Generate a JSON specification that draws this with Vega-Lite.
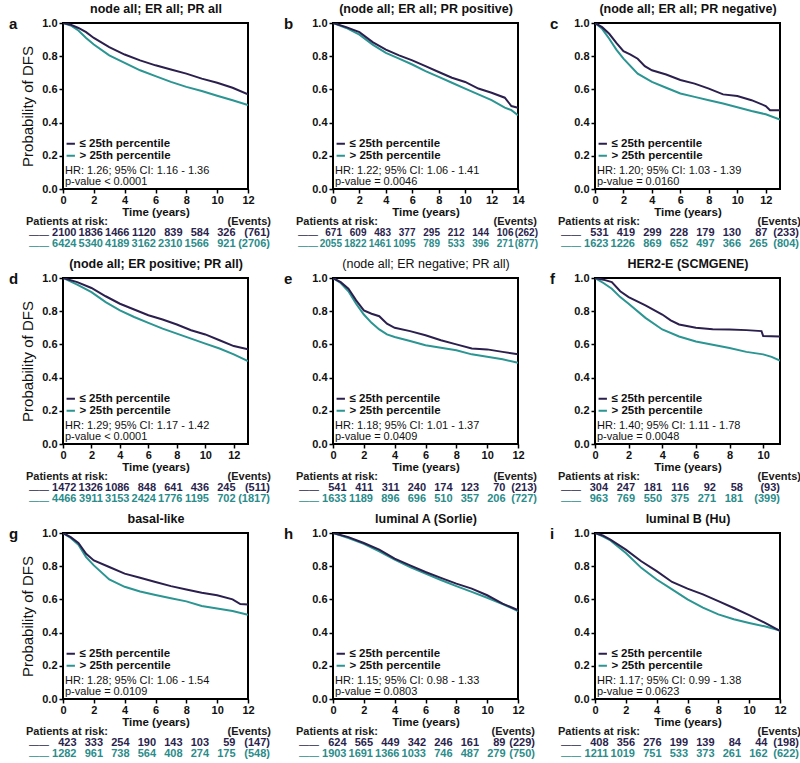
{
  "$schema": "https://vega.github.io/schema/vega-lite/v6.json",
  "padding": {"left": 8, "top": 1, "right": 0, "bottom": 0},
  "background": "white",
  "columns": 3,
  "spacing": {"row": 5, "column": 11},
  "align": "each",
  "resolve": {"scale": {"color": "independent"}},
  "datasets": {
    "km": [
      {"p":"a","g":"H","t":0,"s":1},{"p":"a","g":"H","t":0.5,"s":0.985},{"p":"a","g":"H","t":1,"s":0.955},{"p":"a","g":"H","t":1.5,"s":0.91},{"p":"a","g":"H","t":2,"s":0.87},{"p":"a","g":"H","t":3,"s":0.805},{"p":"a","g":"H","t":4,"s":0.76},{"p":"a","g":"H","t":5,"s":0.715},{"p":"a","g":"H","t":6,"s":0.68},{"p":"a","g":"H","t":7,"s":0.645},{"p":"a","g":"H","t":8,"s":0.615},{"p":"a","g":"H","t":9,"s":0.59},{"p":"a","g":"H","t":10,"s":0.562},{"p":"a","g":"H","t":11,"s":0.535},{"p":"a","g":"H","t":12,"s":0.505},
      {"p":"a","g":"L","t":0,"s":1},{"p":"a","g":"L","t":0.5,"s":0.99},{"p":"a","g":"L","t":1,"s":0.97},{"p":"a","g":"L","t":1.5,"s":0.945},{"p":"a","g":"L","t":2,"s":0.91},{"p":"a","g":"L","t":3,"s":0.855},{"p":"a","g":"L","t":4,"s":0.81},{"p":"a","g":"L","t":5,"s":0.775},{"p":"a","g":"L","t":6,"s":0.745},{"p":"a","g":"L","t":7,"s":0.72},{"p":"a","g":"L","t":8,"s":0.695},{"p":"a","g":"L","t":9,"s":0.665},{"p":"a","g":"L","t":10,"s":0.64},{"p":"a","g":"L","t":11,"s":0.61},{"p":"a","g":"L","t":12,"s":0.57},
      {"p":"b","g":"H","t":0,"s":1},{"p":"b","g":"H","t":1,"s":0.97},{"p":"b","g":"H","t":2,"s":0.93},{"p":"b","g":"H","t":3,"s":0.87},{"p":"b","g":"H","t":4,"s":0.82},{"p":"b","g":"H","t":5,"s":0.785},{"p":"b","g":"H","t":6,"s":0.75},{"p":"b","g":"H","t":7,"s":0.71},{"p":"b","g":"H","t":8,"s":0.675},{"p":"b","g":"H","t":9,"s":0.64},{"p":"b","g":"H","t":10,"s":0.605},{"p":"b","g":"H","t":11,"s":0.57},{"p":"b","g":"H","t":12,"s":0.535},{"p":"b","g":"H","t":13,"s":0.49},{"p":"b","g":"H","t":13.5,"s":0.475},{"p":"b","g":"H","t":14,"s":0.445},
      {"p":"b","g":"L","t":0,"s":1},{"p":"b","g":"L","t":1,"s":0.975},{"p":"b","g":"L","t":2,"s":0.945},{"p":"b","g":"L","t":3,"s":0.885},{"p":"b","g":"L","t":4,"s":0.84},{"p":"b","g":"L","t":5,"s":0.805},{"p":"b","g":"L","t":6,"s":0.775},{"p":"b","g":"L","t":7,"s":0.74},{"p":"b","g":"L","t":8,"s":0.705},{"p":"b","g":"L","t":9,"s":0.67},{"p":"b","g":"L","t":10,"s":0.645},{"p":"b","g":"L","t":11,"s":0.605},{"p":"b","g":"L","t":12,"s":0.58},{"p":"b","g":"L","t":13,"s":0.55},{"p":"b","g":"L","t":13.5,"s":0.5},{"p":"b","g":"L","t":14,"s":0.49},
      {"p":"c","g":"H","t":0,"s":1},{"p":"c","g":"H","t":0.5,"s":0.965},{"p":"c","g":"H","t":1,"s":0.905},{"p":"c","g":"H","t":1.5,"s":0.84},{"p":"c","g":"H","t":2,"s":0.785},{"p":"c","g":"H","t":3,"s":0.695},{"p":"c","g":"H","t":4,"s":0.645},{"p":"c","g":"H","t":5,"s":0.61},{"p":"c","g":"H","t":6,"s":0.575},{"p":"c","g":"H","t":7,"s":0.555},{"p":"c","g":"H","t":8,"s":0.535},{"p":"c","g":"H","t":9,"s":0.515},{"p":"c","g":"H","t":10,"s":0.493},{"p":"c","g":"H","t":11,"s":0.47},{"p":"c","g":"H","t":12,"s":0.45},{"p":"c","g":"H","t":13,"s":0.418},
      {"p":"c","g":"L","t":0,"s":1},{"p":"c","g":"L","t":0.5,"s":0.975},{"p":"c","g":"L","t":1,"s":0.935},{"p":"c","g":"L","t":1.5,"s":0.88},{"p":"c","g":"L","t":2,"s":0.83},{"p":"c","g":"L","t":2.5,"s":0.81},{"p":"c","g":"L","t":3,"s":0.785},{"p":"c","g":"L","t":3.5,"s":0.74},{"p":"c","g":"L","t":4,"s":0.715},{"p":"c","g":"L","t":5,"s":0.69},{"p":"c","g":"L","t":6,"s":0.657},{"p":"c","g":"L","t":7,"s":0.635},{"p":"c","g":"L","t":8,"s":0.605},{"p":"c","g":"L","t":9,"s":0.57},{"p":"c","g":"L","t":10,"s":0.56},{"p":"c","g":"L","t":11,"s":0.535},{"p":"c","g":"L","t":12,"s":0.5},{"p":"c","g":"L","t":12.3,"s":0.475},{"p":"c","g":"L","t":13,"s":0.475},
      {"p":"d","g":"H","t":0,"s":1},{"p":"d","g":"H","t":1,"s":0.96},{"p":"d","g":"H","t":2,"s":0.915},{"p":"d","g":"H","t":3,"s":0.855},{"p":"d","g":"H","t":4,"s":0.805},{"p":"d","g":"H","t":5,"s":0.765},{"p":"d","g":"H","t":6,"s":0.73},{"p":"d","g":"H","t":7,"s":0.695},{"p":"d","g":"H","t":8,"s":0.665},{"p":"d","g":"H","t":9,"s":0.635},{"p":"d","g":"H","t":10,"s":0.605},{"p":"d","g":"H","t":11,"s":0.575},{"p":"d","g":"H","t":12,"s":0.54},{"p":"d","g":"H","t":13,"s":0.5},
      {"p":"d","g":"L","t":0,"s":1},{"p":"d","g":"L","t":1,"s":0.975},{"p":"d","g":"L","t":2,"s":0.94},{"p":"d","g":"L","t":3,"s":0.89},{"p":"d","g":"L","t":4,"s":0.845},{"p":"d","g":"L","t":5,"s":0.81},{"p":"d","g":"L","t":6,"s":0.776},{"p":"d","g":"L","t":7,"s":0.75},{"p":"d","g":"L","t":8,"s":0.72},{"p":"d","g":"L","t":9,"s":0.685},{"p":"d","g":"L","t":10,"s":0.66},{"p":"d","g":"L","t":11,"s":0.625},{"p":"d","g":"L","t":12,"s":0.59},{"p":"d","g":"L","t":13,"s":0.57},
      {"p":"e","g":"H","t":0,"s":1},{"p":"e","g":"H","t":0.5,"s":0.97},{"p":"e","g":"H","t":1,"s":0.92},{"p":"e","g":"H","t":1.5,"s":0.845},{"p":"e","g":"H","t":2,"s":0.78},{"p":"e","g":"H","t":2.5,"s":0.73},{"p":"e","g":"H","t":3,"s":0.69},{"p":"e","g":"H","t":3.5,"s":0.66},{"p":"e","g":"H","t":4,"s":0.645},{"p":"e","g":"H","t":5,"s":0.62},{"p":"e","g":"H","t":6,"s":0.595},{"p":"e","g":"H","t":7,"s":0.58},{"p":"e","g":"H","t":8,"s":0.565},{"p":"e","g":"H","t":9,"s":0.54},{"p":"e","g":"H","t":10,"s":0.525},{"p":"e","g":"H","t":11,"s":0.51},{"p":"e","g":"H","t":12,"s":0.49},
      {"p":"e","g":"L","t":0,"s":1},{"p":"e","g":"L","t":0.5,"s":0.975},{"p":"e","g":"L","t":1,"s":0.935},{"p":"e","g":"L","t":1.5,"s":0.865},{"p":"e","g":"L","t":2,"s":0.805},{"p":"e","g":"L","t":2.5,"s":0.785},{"p":"e","g":"L","t":3,"s":0.77},{"p":"e","g":"L","t":3.5,"s":0.725},{"p":"e","g":"L","t":4,"s":0.7},{"p":"e","g":"L","t":5,"s":0.68},{"p":"e","g":"L","t":6,"s":0.655},{"p":"e","g":"L","t":7,"s":0.625},{"p":"e","g":"L","t":8,"s":0.6},{"p":"e","g":"L","t":9,"s":0.575},{"p":"e","g":"L","t":10,"s":0.57},{"p":"e","g":"L","t":11,"s":0.555},{"p":"e","g":"L","t":12,"s":0.54},
      {"p":"f","g":"H","t":0,"s":1},{"p":"f","g":"H","t":0.5,"s":0.97},{"p":"f","g":"H","t":1,"s":0.935},{"p":"f","g":"H","t":1.5,"s":0.885},{"p":"f","g":"H","t":2,"s":0.845},{"p":"f","g":"H","t":3,"s":0.76},{"p":"f","g":"H","t":4,"s":0.69},{"p":"f","g":"H","t":5,"s":0.648},{"p":"f","g":"H","t":6,"s":0.618},{"p":"f","g":"H","t":7,"s":0.598},{"p":"f","g":"H","t":8,"s":0.578},{"p":"f","g":"H","t":9,"s":0.555},{"p":"f","g":"H","t":10,"s":0.54},{"p":"f","g":"H","t":10.5,"s":0.525},{"p":"f","g":"H","t":11,"s":0.502},
      {"p":"f","g":"L","t":0,"s":1},{"p":"f","g":"L","t":0.5,"s":0.99},{"p":"f","g":"L","t":1,"s":0.975},{"p":"f","g":"L","t":1.5,"s":0.92},{"p":"f","g":"L","t":2,"s":0.885},{"p":"f","g":"L","t":3,"s":0.835},{"p":"f","g":"L","t":4,"s":0.78},{"p":"f","g":"L","t":4.5,"s":0.745},{"p":"f","g":"L","t":5,"s":0.72},{"p":"f","g":"L","t":6,"s":0.7},{"p":"f","g":"L","t":7,"s":0.692},{"p":"f","g":"L","t":8,"s":0.69},{"p":"f","g":"L","t":9,"s":0.686},{"p":"f","g":"L","t":9.9,"s":0.68},{"p":"f","g":"L","t":10,"s":0.65},{"p":"f","g":"L","t":11,"s":0.647},
      {"p":"g","g":"H","t":0,"s":1},{"p":"g","g":"H","t":0.5,"s":0.97},{"p":"g","g":"H","t":1,"s":0.93},{"p":"g","g":"H","t":1.5,"s":0.855},{"p":"g","g":"H","t":2,"s":0.805},{"p":"g","g":"H","t":3,"s":0.72},{"p":"g","g":"H","t":4,"s":0.676},{"p":"g","g":"H","t":5,"s":0.648},{"p":"g","g":"H","t":6,"s":0.627},{"p":"g","g":"H","t":7,"s":0.607},{"p":"g","g":"H","t":8,"s":0.588},{"p":"g","g":"H","t":9,"s":0.56},{"p":"g","g":"H","t":10,"s":0.545},{"p":"g","g":"H","t":11,"s":0.53},{"p":"g","g":"H","t":12,"s":0.508},
      {"p":"g","g":"L","t":0,"s":1},{"p":"g","g":"L","t":0.5,"s":0.975},{"p":"g","g":"L","t":1,"s":0.94},{"p":"g","g":"L","t":1.5,"s":0.875},{"p":"g","g":"L","t":2,"s":0.835},{"p":"g","g":"L","t":3,"s":0.795},{"p":"g","g":"L","t":4,"s":0.755},{"p":"g","g":"L","t":5,"s":0.73},{"p":"g","g":"L","t":6,"s":0.705},{"p":"g","g":"L","t":7,"s":0.68},{"p":"g","g":"L","t":8,"s":0.66},{"p":"g","g":"L","t":9,"s":0.64},{"p":"g","g":"L","t":10,"s":0.625},{"p":"g","g":"L","t":11,"s":0.6},{"p":"g","g":"L","t":11.5,"s":0.572},{"p":"g","g":"L","t":12,"s":0.57},
      {"p":"h","g":"H","t":0,"s":1},{"p":"h","g":"H","t":1,"s":0.97},{"p":"h","g":"H","t":2,"s":0.935},{"p":"h","g":"H","t":3,"s":0.89},{"p":"h","g":"H","t":4,"s":0.84},{"p":"h","g":"H","t":5,"s":0.795},{"p":"h","g":"H","t":6,"s":0.755},{"p":"h","g":"H","t":7,"s":0.717},{"p":"h","g":"H","t":8,"s":0.68},{"p":"h","g":"H","t":9,"s":0.645},{"p":"h","g":"H","t":10,"s":0.61},{"p":"h","g":"H","t":11,"s":0.572},{"p":"h","g":"H","t":12,"s":0.53},
      {"p":"h","g":"L","t":0,"s":1},{"p":"h","g":"L","t":1,"s":0.975},{"p":"h","g":"L","t":2,"s":0.94},{"p":"h","g":"L","t":3,"s":0.9},{"p":"h","g":"L","t":4,"s":0.845},{"p":"h","g":"L","t":5,"s":0.805},{"p":"h","g":"L","t":6,"s":0.765},{"p":"h","g":"L","t":7,"s":0.73},{"p":"h","g":"L","t":8,"s":0.695},{"p":"h","g":"L","t":9,"s":0.665},{"p":"h","g":"L","t":10,"s":0.625},{"p":"h","g":"L","t":11,"s":0.575},{"p":"h","g":"L","t":12,"s":0.535},
      {"p":"i","g":"H","t":0,"s":1},{"p":"i","g":"H","t":0.5,"s":0.98},{"p":"i","g":"H","t":1,"s":0.955},{"p":"i","g":"H","t":2,"s":0.88},{"p":"i","g":"H","t":3,"s":0.79},{"p":"i","g":"H","t":4,"s":0.72},{"p":"i","g":"H","t":5,"s":0.66},{"p":"i","g":"H","t":6,"s":0.6},{"p":"i","g":"H","t":7,"s":0.55},{"p":"i","g":"H","t":8,"s":0.51},{"p":"i","g":"H","t":9,"s":0.48},{"p":"i","g":"H","t":10,"s":0.458},{"p":"i","g":"H","t":11,"s":0.438},{"p":"i","g":"H","t":12,"s":0.412},
      {"p":"i","g":"L","t":0,"s":1},{"p":"i","g":"L","t":0.5,"s":0.985},{"p":"i","g":"L","t":1,"s":0.96},{"p":"i","g":"L","t":2,"s":0.9},{"p":"i","g":"L","t":3,"s":0.83},{"p":"i","g":"L","t":4,"s":0.77},{"p":"i","g":"L","t":5,"s":0.705},{"p":"i","g":"L","t":6,"s":0.665},{"p":"i","g":"L","t":7,"s":0.63},{"p":"i","g":"L","t":8,"s":0.59},{"p":"i","g":"L","t":9,"s":0.548},{"p":"i","g":"L","t":10,"s":0.505},{"p":"i","g":"L","t":11,"s":0.46},{"p":"i","g":"L","t":12,"s":0.41}
    ],
    "risk": [
      {"p":"a","r":"h","k":"l","c":0,"v":"Patients at risk:"},{"p":"a","r":"h","k":"e","c":8,"v":"(Events)"},{"p":"a","r":"d","k":"s","c":0,"v":"——"},{"p":"a","r":"t","k":"s","c":0,"v":"——"},
      {"p":"a","r":"d","k":"n","c":1,"v":"2100"},{"p":"a","r":"d","k":"n","c":2,"v":"1836"},{"p":"a","r":"d","k":"n","c":3,"v":"1466"},{"p":"a","r":"d","k":"n","c":4,"v":"1120"},{"p":"a","r":"d","k":"n","c":5,"v":"839"},{"p":"a","r":"d","k":"n","c":6,"v":"584"},{"p":"a","r":"d","k":"n","c":7,"v":"326"},{"p":"a","r":"d","k":"v","c":8,"v":"(761)"},
      {"p":"a","r":"t","k":"n","c":1,"v":"6424"},{"p":"a","r":"t","k":"n","c":2,"v":"5340"},{"p":"a","r":"t","k":"n","c":3,"v":"4189"},{"p":"a","r":"t","k":"n","c":4,"v":"3162"},{"p":"a","r":"t","k":"n","c":5,"v":"2310"},{"p":"a","r":"t","k":"n","c":6,"v":"1566"},{"p":"a","r":"t","k":"n","c":7,"v":"921"},{"p":"a","r":"t","k":"v","c":8,"v":"(2706)"},
      {"p":"b","r":"h","k":"l","c":0,"v":"Patients at risk:"},{"p":"b","r":"h","k":"e","c":9,"v":"(Events)"},{"p":"b","r":"d","k":"s","c":0,"v":"——"},{"p":"b","r":"t","k":"s","c":0,"v":"——"},
      {"p":"b","r":"d","k":"n","c":1,"v":"671"},{"p":"b","r":"d","k":"n","c":2,"v":"609"},{"p":"b","r":"d","k":"n","c":3,"v":"483"},{"p":"b","r":"d","k":"n","c":4,"v":"377"},{"p":"b","r":"d","k":"n","c":5,"v":"295"},{"p":"b","r":"d","k":"n","c":6,"v":"212"},{"p":"b","r":"d","k":"n","c":7,"v":"144"},{"p":"b","r":"d","k":"n","c":8,"v":"106"},{"p":"b","r":"d","k":"v","c":9,"v":"(262)"},
      {"p":"b","r":"t","k":"n","c":1,"v":"2055"},{"p":"b","r":"t","k":"n","c":2,"v":"1822"},{"p":"b","r":"t","k":"n","c":3,"v":"1461"},{"p":"b","r":"t","k":"n","c":4,"v":"1095"},{"p":"b","r":"t","k":"n","c":5,"v":"789"},{"p":"b","r":"t","k":"n","c":6,"v":"533"},{"p":"b","r":"t","k":"n","c":7,"v":"396"},{"p":"b","r":"t","k":"n","c":8,"v":"271"},{"p":"b","r":"t","k":"v","c":9,"v":"(877)"},
      {"p":"c","r":"h","k":"l","c":0,"v":"Patients at risk:"},{"p":"c","r":"h","k":"e","c":8,"v":"(Events)"},{"p":"c","r":"d","k":"s","c":0,"v":"——"},{"p":"c","r":"t","k":"s","c":0,"v":"——"},
      {"p":"c","r":"d","k":"n","c":1,"v":"531"},{"p":"c","r":"d","k":"n","c":2,"v":"419"},{"p":"c","r":"d","k":"n","c":3,"v":"299"},{"p":"c","r":"d","k":"n","c":4,"v":"228"},{"p":"c","r":"d","k":"n","c":5,"v":"179"},{"p":"c","r":"d","k":"n","c":6,"v":"130"},{"p":"c","r":"d","k":"n","c":7,"v":"87"},{"p":"c","r":"d","k":"v","c":8,"v":"(233)"},
      {"p":"c","r":"t","k":"n","c":1,"v":"1623"},{"p":"c","r":"t","k":"n","c":2,"v":"1226"},{"p":"c","r":"t","k":"n","c":3,"v":"869"},{"p":"c","r":"t","k":"n","c":4,"v":"652"},{"p":"c","r":"t","k":"n","c":5,"v":"497"},{"p":"c","r":"t","k":"n","c":6,"v":"366"},{"p":"c","r":"t","k":"n","c":7,"v":"265"},{"p":"c","r":"t","k":"v","c":8,"v":"(804)"},
      {"p":"d","r":"h","k":"l","c":0,"v":"Patients at risk:"},{"p":"d","r":"h","k":"e","c":8,"v":"(Events)"},{"p":"d","r":"d","k":"s","c":0,"v":"——"},{"p":"d","r":"t","k":"s","c":0,"v":"——"},
      {"p":"d","r":"d","k":"n","c":1,"v":"1472"},{"p":"d","r":"d","k":"n","c":2,"v":"1326"},{"p":"d","r":"d","k":"n","c":3,"v":"1086"},{"p":"d","r":"d","k":"n","c":4,"v":"848"},{"p":"d","r":"d","k":"n","c":5,"v":"641"},{"p":"d","r":"d","k":"n","c":6,"v":"436"},{"p":"d","r":"d","k":"n","c":7,"v":"245"},{"p":"d","r":"d","k":"v","c":8,"v":"(511)"},
      {"p":"d","r":"t","k":"n","c":1,"v":"4466"},{"p":"d","r":"t","k":"n","c":2,"v":"3911"},{"p":"d","r":"t","k":"n","c":3,"v":"3153"},{"p":"d","r":"t","k":"n","c":4,"v":"2424"},{"p":"d","r":"t","k":"n","c":5,"v":"1776"},{"p":"d","r":"t","k":"n","c":6,"v":"1195"},{"p":"d","r":"t","k":"n","c":7,"v":"702"},{"p":"d","r":"t","k":"v","c":8,"v":"(1817)"},
      {"p":"e","r":"h","k":"l","c":0,"v":"Patients at risk:"},{"p":"e","r":"h","k":"e","c":8,"v":"(Events)"},{"p":"e","r":"d","k":"s","c":0,"v":"——"},{"p":"e","r":"t","k":"s","c":0,"v":"——"},
      {"p":"e","r":"d","k":"n","c":1,"v":"541"},{"p":"e","r":"d","k":"n","c":2,"v":"411"},{"p":"e","r":"d","k":"n","c":3,"v":"311"},{"p":"e","r":"d","k":"n","c":4,"v":"240"},{"p":"e","r":"d","k":"n","c":5,"v":"174"},{"p":"e","r":"d","k":"n","c":6,"v":"123"},{"p":"e","r":"d","k":"n","c":7,"v":"70"},{"p":"e","r":"d","k":"v","c":8,"v":"(213)"},
      {"p":"e","r":"t","k":"n","c":1,"v":"1633"},{"p":"e","r":"t","k":"n","c":2,"v":"1189"},{"p":"e","r":"t","k":"n","c":3,"v":"896"},{"p":"e","r":"t","k":"n","c":4,"v":"696"},{"p":"e","r":"t","k":"n","c":5,"v":"510"},{"p":"e","r":"t","k":"n","c":6,"v":"357"},{"p":"e","r":"t","k":"n","c":7,"v":"206"},{"p":"e","r":"t","k":"v","c":8,"v":"(727)"},
      {"p":"f","r":"h","k":"l","c":0,"v":"Patients at risk:"},{"p":"f","r":"h","k":"e","c":7,"v":"(Events)"},{"p":"f","r":"d","k":"s","c":0,"v":"——"},{"p":"f","r":"t","k":"s","c":0,"v":"——"},
      {"p":"f","r":"d","k":"n","c":1,"v":"304"},{"p":"f","r":"d","k":"n","c":2,"v":"247"},{"p":"f","r":"d","k":"n","c":3,"v":"181"},{"p":"f","r":"d","k":"n","c":4,"v":"116"},{"p":"f","r":"d","k":"n","c":5,"v":"92"},{"p":"f","r":"d","k":"n","c":6,"v":"58"},{"p":"f","r":"d","k":"v","c":7,"v":"(93)"},
      {"p":"f","r":"t","k":"n","c":1,"v":"963"},{"p":"f","r":"t","k":"n","c":2,"v":"769"},{"p":"f","r":"t","k":"n","c":3,"v":"550"},{"p":"f","r":"t","k":"n","c":4,"v":"375"},{"p":"f","r":"t","k":"n","c":5,"v":"271"},{"p":"f","r":"t","k":"n","c":6,"v":"181"},{"p":"f","r":"t","k":"v","c":7,"v":"(399)"},
      {"p":"g","r":"h","k":"l","c":0,"v":"Patients at risk:"},{"p":"g","r":"h","k":"e","c":8,"v":"(Events)"},{"p":"g","r":"d","k":"s","c":0,"v":"——"},{"p":"g","r":"t","k":"s","c":0,"v":"——"},
      {"p":"g","r":"d","k":"n","c":1,"v":"423"},{"p":"g","r":"d","k":"n","c":2,"v":"333"},{"p":"g","r":"d","k":"n","c":3,"v":"254"},{"p":"g","r":"d","k":"n","c":4,"v":"190"},{"p":"g","r":"d","k":"n","c":5,"v":"143"},{"p":"g","r":"d","k":"n","c":6,"v":"103"},{"p":"g","r":"d","k":"n","c":7,"v":"59"},{"p":"g","r":"d","k":"v","c":8,"v":"(147)"},
      {"p":"g","r":"t","k":"n","c":1,"v":"1282"},{"p":"g","r":"t","k":"n","c":2,"v":"961"},{"p":"g","r":"t","k":"n","c":3,"v":"738"},{"p":"g","r":"t","k":"n","c":4,"v":"564"},{"p":"g","r":"t","k":"n","c":5,"v":"408"},{"p":"g","r":"t","k":"n","c":6,"v":"274"},{"p":"g","r":"t","k":"n","c":7,"v":"175"},{"p":"g","r":"t","k":"v","c":8,"v":"(548)"},
      {"p":"h","r":"h","k":"l","c":0,"v":"Patients at risk:"},{"p":"h","r":"h","k":"e","c":8,"v":"(Events)"},{"p":"h","r":"d","k":"s","c":0,"v":"——"},{"p":"h","r":"t","k":"s","c":0,"v":"——"},
      {"p":"h","r":"d","k":"n","c":1,"v":"624"},{"p":"h","r":"d","k":"n","c":2,"v":"565"},{"p":"h","r":"d","k":"n","c":3,"v":"449"},{"p":"h","r":"d","k":"n","c":4,"v":"342"},{"p":"h","r":"d","k":"n","c":5,"v":"246"},{"p":"h","r":"d","k":"n","c":6,"v":"161"},{"p":"h","r":"d","k":"n","c":7,"v":"89"},{"p":"h","r":"d","k":"v","c":8,"v":"(229)"},
      {"p":"h","r":"t","k":"n","c":1,"v":"1903"},{"p":"h","r":"t","k":"n","c":2,"v":"1691"},{"p":"h","r":"t","k":"n","c":3,"v":"1366"},{"p":"h","r":"t","k":"n","c":4,"v":"1033"},{"p":"h","r":"t","k":"n","c":5,"v":"746"},{"p":"h","r":"t","k":"n","c":6,"v":"487"},{"p":"h","r":"t","k":"n","c":7,"v":"279"},{"p":"h","r":"t","k":"v","c":8,"v":"(750)"},
      {"p":"i","r":"h","k":"l","c":0,"v":"Patients at risk:"},{"p":"i","r":"h","k":"e","c":8,"v":"(Events)"},{"p":"i","r":"d","k":"s","c":0,"v":"——"},{"p":"i","r":"t","k":"s","c":0,"v":"——"},
      {"p":"i","r":"d","k":"n","c":1,"v":"408"},{"p":"i","r":"d","k":"n","c":2,"v":"356"},{"p":"i","r":"d","k":"n","c":3,"v":"276"},{"p":"i","r":"d","k":"n","c":4,"v":"199"},{"p":"i","r":"d","k":"n","c":5,"v":"139"},{"p":"i","r":"d","k":"n","c":6,"v":"84"},{"p":"i","r":"d","k":"n","c":7,"v":"44"},{"p":"i","r":"d","k":"v","c":8,"v":"(198)"},
      {"p":"i","r":"t","k":"n","c":1,"v":"1211"},{"p":"i","r":"t","k":"n","c":2,"v":"1019"},{"p":"i","r":"t","k":"n","c":3,"v":"751"},{"p":"i","r":"t","k":"n","c":4,"v":"533"},{"p":"i","r":"t","k":"n","c":5,"v":"373"},{"p":"i","r":"t","k":"n","c":6,"v":"261"},{"p":"i","r":"t","k":"n","c":7,"v":"162"},{"p":"i","r":"t","k":"v","c":8,"v":"(622)"}
    ]
  },
  "concat": [
    {
      "bounds": "flush", "spacing": 27,
      "resolve": {"scale": {"color": "independent"}},
      "vconcat": [
        {"width": 185, "height": 166, "title": {"text": "a", "dx": -54},
         "data": {"name": "km"}, "transform": [{"filter": "datum.p == 'a'"}],
         "encoding": {
           "x": {"field": "t", "type": "quantitative", "scale": {"domain": [0, 12], "nice": false, "zero": false}, "axis": {"values": [0,2,4,6,8,10,12], "title": "Time (years)"}},
           "y": {"field": "s", "type": "quantitative", "scale": {"domain": [0, 1], "nice": false}, "axis": {"values": [0,0.2,0.4,0.6,0.8,1], "format": ".1f", "title": "Probability of DFS"}}
         },
         "layer": [
           {"mark": {"type": "line", "clip": true},
            "encoding": {"color": {"field": "g", "type": "nominal", "scale": {"domain": ["L","H"], "range": ["#2a1f4d","#2a9592"]}, "legend": {"title": ["\u00a0HR: 1.26; 95% CI: 1.16 - 1.36", "\u00a0p-value < 0.0001"], "labelExpr": "datum.label == 'L' ? '≤ 25th percentile' : '> 25th percentile'"}}}},
           {"transform": [{"filter": "false"}], "mark": {"type": "line"},
            "encoding": {"x": {"field": "t", "type": "quantitative", "axis": {"orient": "top", "title": "node all; ER all; PR all", "labels": false, "ticks": false, "domain": false, "titleFontSize": 12.5, "titleFontWeight": "bold", "titlePadding": 8}}}}
         ],
         "resolve": {"axis": {"x": "independent"}}},
        {"width": 185, "height": 33, "view": {"stroke": null},
         "data": {"name": "risk"}, "transform": [{"filter": "datum.p == 'a'"}],
         "encoding": {
           "x": {"field": "c", "type": "quantitative", "scale": {"domain": [0.4906, 7.4717], "nice": false, "zero": false}, "axis": null},
           "y": {"field": "r", "type": "nominal", "scale": {"type": "point", "domain": ["h","d","t"], "padding": 0.5}, "axis": null},
           "color": {"field": "r", "type": "nominal", "scale": {"domain": ["h","d","t"], "range": ["#1a1a1a","#2a1f4d","#2a8c8a"]}, "legend": null},
           "text": {"field": "v"}
         },
         "layer": [
           {"transform": [{"filter": "datum.k == 'n'"}], "mark": {"type": "text", "align": "right"}},
           {"transform": [{"filter": "datum.k == 'v'"}], "mark": {"type": "text", "align": "right", "dx": 8}},
           {"transform": [{"filter": "datum.k == 'e'"}], "mark": {"type": "text", "align": "right", "dx": 9}},
           {"transform": [{"filter": "datum.k == 'l'"}], "mark": {"type": "text", "align": "left", "dx": -24}},
           {"transform": [{"filter": "datum.k == 's'"}], "mark": {"type": "text", "align": "right", "dx": -1, "dy": 2, "fontWeight": "normal", "fontSize": 10}}
         ]}
      ]
    },
    {
      "bounds": "flush", "spacing": 27,
      "resolve": {"scale": {"color": "independent"}},
      "vconcat": [
        {"width": 185, "height": 166, "title": {"text": "b", "dx": -49},
         "data": {"name": "km"}, "transform": [{"filter": "datum.p == 'b'"}],
         "encoding": {
           "x": {"field": "t", "type": "quantitative", "scale": {"domain": [0, 14], "nice": false, "zero": false}, "axis": {"values": [0,2,4,6,8,10,12,14], "title": "Time (years)"}},
           "y": {"field": "s", "type": "quantitative", "scale": {"domain": [0, 1], "nice": false}, "axis": {"values": [0,0.2,0.4,0.6,0.8,1], "format": ".1f", "title": null}}
         },
         "layer": [
           {"mark": {"type": "line", "clip": true},
            "encoding": {"color": {"field": "g", "type": "nominal", "scale": {"domain": ["L","H"], "range": ["#2a1f4d","#2a9592"]}, "legend": {"title": ["\u00a0HR: 1.22; 95% CI: 1.06 - 1.41", "\u00a0p-value = 0.0046"], "labelExpr": "datum.label == 'L' ? '≤ 25th percentile' : '> 25th percentile'"}}}},
           {"transform": [{"filter": "false"}], "mark": {"type": "line"},
            "encoding": {"x": {"field": "t", "type": "quantitative", "axis": {"orient": "top", "title": "(node all; ER all; PR positive)", "labels": false, "ticks": false, "domain": false, "titleFontSize": 12.5, "titleFontWeight": "bold", "titlePadding": 8}}}}
         ],
         "resolve": {"axis": {"x": "independent"}}},
        {"width": 185, "height": 33, "view": {"stroke": null},
         "data": {"name": "risk"}, "transform": [{"filter": "datum.p == 'b'"}],
         "encoding": {
           "x": {"field": "c", "type": "quantitative", "scale": {"domain": [0.6327, 8.1837], "nice": false, "zero": false}, "axis": null},
           "y": {"field": "r", "type": "nominal", "scale": {"type": "point", "domain": ["h","d","t"], "padding": 0.5}, "axis": null},
           "color": {"field": "r", "type": "nominal", "scale": {"domain": ["h","d","t"], "range": ["#1a1a1a","#2a1f4d","#2a8c8a"]}, "legend": null},
           "text": {"field": "v"}
         },
         "layer": [
           {"transform": [{"filter": "datum.k == 'n'"}], "mark": {"type": "text", "align": "right", "fontSize": 10}},
           {"transform": [{"filter": "datum.k == 'v'"}], "mark": {"type": "text", "align": "right", "dx": 0, "fontSize": 10}},
           {"transform": [{"filter": "datum.k == 'e'"}], "mark": {"type": "text", "align": "right", "dx": -1}},
           {"transform": [{"filter": "datum.k == 'l'"}], "mark": {"type": "text", "align": "left", "dx": -21.5}},
           {"transform": [{"filter": "datum.k == 's'"}], "mark": {"type": "text", "align": "right", "dx": 0.5, "dy": 2, "fontWeight": "normal", "fontSize": 10}}
         ]}
      ]
    },
    {
      "bounds": "flush", "spacing": 27,
      "resolve": {"scale": {"color": "independent"}},
      "vconcat": [
        {"width": 185, "height": 166, "title": {"text": "c", "dx": -45},
         "data": {"name": "km"}, "transform": [{"filter": "datum.p == 'c'"}],
         "encoding": {
           "x": {"field": "t", "type": "quantitative", "scale": {"domain": [0, 13], "nice": false, "zero": false}, "axis": {"values": [0,2,4,6,8,10,12], "title": "Time (years)"}},
           "y": {"field": "s", "type": "quantitative", "scale": {"domain": [0, 1], "nice": false}, "axis": {"values": [0,0.2,0.4,0.6,0.8,1], "format": ".1f", "title": null}}
         },
         "layer": [
           {"mark": {"type": "line", "clip": true},
            "encoding": {"color": {"field": "g", "type": "nominal", "scale": {"domain": ["L","H"], "range": ["#2a1f4d","#2a9592"]}, "legend": {"title": ["\u00a0HR: 1.20; 95% CI: 1.03 - 1.39", "\u00a0p-value = 0.0160"], "labelExpr": "datum.label == 'L' ? '≤ 25th percentile' : '> 25th percentile'"}}}},
           {"transform": [{"filter": "false"}], "mark": {"type": "line"},
            "encoding": {"x": {"field": "t", "type": "quantitative", "axis": {"orient": "top", "title": "(node all; ER all; PR negative)", "labels": false, "ticks": false, "domain": false, "titleFontSize": 12.5, "titleFontWeight": "bold", "titlePadding": 8}}}}
         ],
         "resolve": {"axis": {"x": "independent"}}},
        {"width": 185, "height": 33, "view": {"stroke": null},
         "data": {"name": "risk"}, "transform": [{"filter": "datum.p == 'c'"}],
         "encoding": {
           "x": {"field": "c", "type": "quantitative", "scale": {"domain": [0.4906, 7.4717], "nice": false, "zero": false}, "axis": null},
           "y": {"field": "r", "type": "nominal", "scale": {"type": "point", "domain": ["h","d","t"], "padding": 0.5}, "axis": null},
           "color": {"field": "r", "type": "nominal", "scale": {"domain": ["h","d","t"], "range": ["#1a1a1a","#2a1f4d","#2a8c8a"]}, "legend": null},
           "text": {"field": "v"}
         },
         "layer": [
           {"transform": [{"filter": "datum.k == 'n'"}], "mark": {"type": "text", "align": "right"}},
           {"transform": [{"filter": "datum.k == 'v'"}], "mark": {"type": "text", "align": "right", "dx": 5}},
           {"transform": [{"filter": "datum.k == 'e'"}], "mark": {"type": "text", "align": "right", "dx": 7}},
           {"transform": [{"filter": "datum.k == 'l'"}], "mark": {"type": "text", "align": "left", "dx": -24}},
           {"transform": [{"filter": "datum.k == 's'"}], "mark": {"type": "text", "align": "right", "dx": -1, "dy": 2, "fontWeight": "normal", "fontSize": 10}}
         ]}
      ]
    },
    {
      "bounds": "flush", "spacing": 27,
      "resolve": {"scale": {"color": "independent"}},
      "vconcat": [
        {"width": 185, "height": 166, "title": {"text": "d", "dx": -54},
         "data": {"name": "km"}, "transform": [{"filter": "datum.p == 'd'"}],
         "encoding": {
           "x": {"field": "t", "type": "quantitative", "scale": {"domain": [0, 13], "nice": false, "zero": false}, "axis": {"values": [0,2,4,6,8,10,12], "title": "Time (years)"}},
           "y": {"field": "s", "type": "quantitative", "scale": {"domain": [0, 1], "nice": false}, "axis": {"values": [0,0.2,0.4,0.6,0.8,1], "format": ".1f", "title": "Probability of DFS"}}
         },
         "layer": [
           {"mark": {"type": "line", "clip": true},
            "encoding": {"color": {"field": "g", "type": "nominal", "scale": {"domain": ["L","H"], "range": ["#2a1f4d","#2a9592"]}, "legend": {"title": ["\u00a0HR: 1.29; 95% CI: 1.17 - 1.42", "\u00a0p-value < 0.0001"], "labelExpr": "datum.label == 'L' ? '≤ 25th percentile' : '> 25th percentile'"}}}},
           {"transform": [{"filter": "false"}], "mark": {"type": "line"},
            "encoding": {"x": {"field": "t", "type": "quantitative", "axis": {"orient": "top", "title": "(node all; ER positive; PR all)", "labels": false, "ticks": false, "domain": false, "titleFontSize": 12.5, "titleFontWeight": "bold", "titlePadding": 8}}}}
         ],
         "resolve": {"axis": {"x": "independent"}}},
        {"width": 185, "height": 33, "view": {"stroke": null},
         "data": {"name": "risk"}, "transform": [{"filter": "datum.p == 'd'"}],
         "encoding": {
           "x": {"field": "c", "type": "quantitative", "scale": {"domain": [0.4906, 7.4717], "nice": false, "zero": false}, "axis": null},
           "y": {"field": "r", "type": "nominal", "scale": {"type": "point", "domain": ["h","d","t"], "padding": 0.5}, "axis": null},
           "color": {"field": "r", "type": "nominal", "scale": {"domain": ["h","d","t"], "range": ["#1a1a1a","#2a1f4d","#2a8c8a"]}, "legend": null},
           "text": {"field": "v"}
         },
         "layer": [
           {"transform": [{"filter": "datum.k == 'n'"}], "mark": {"type": "text", "align": "right"}},
           {"transform": [{"filter": "datum.k == 'v'"}], "mark": {"type": "text", "align": "right", "dx": 8}},
           {"transform": [{"filter": "datum.k == 'e'"}], "mark": {"type": "text", "align": "right", "dx": 9}},
           {"transform": [{"filter": "datum.k == 'l'"}], "mark": {"type": "text", "align": "left", "dx": -24}},
           {"transform": [{"filter": "datum.k == 's'"}], "mark": {"type": "text", "align": "right", "dx": -1, "dy": 2, "fontWeight": "normal", "fontSize": 10}}
         ]}
      ]
    },
    {
      "bounds": "flush", "spacing": 27,
      "resolve": {"scale": {"color": "independent"}},
      "vconcat": [
        {"width": 185, "height": 166, "title": {"text": "e", "dx": -49},
         "data": {"name": "km"}, "transform": [{"filter": "datum.p == 'e'"}],
         "encoding": {
           "x": {"field": "t", "type": "quantitative", "scale": {"domain": [0, 12], "nice": false, "zero": false}, "axis": {"values": [0,2,4,6,8,10,12], "title": "Time (years)"}},
           "y": {"field": "s", "type": "quantitative", "scale": {"domain": [0, 1], "nice": false}, "axis": {"values": [0,0.2,0.4,0.6,0.8,1], "format": ".1f", "title": null}}
         },
         "layer": [
           {"mark": {"type": "line", "clip": true},
            "encoding": {"color": {"field": "g", "type": "nominal", "scale": {"domain": ["L","H"], "range": ["#2a1f4d","#2a9592"]}, "legend": {"title": ["\u00a0HR: 1.18; 95% CI: 1.01 - 1.37", "\u00a0p-value = 0.0409"], "labelExpr": "datum.label == 'L' ? '≤ 25th percentile' : '> 25th percentile'"}}}},
           {"transform": [{"filter": "false"}], "mark": {"type": "line"},
            "encoding": {"x": {"field": "t", "type": "quantitative", "axis": {"orient": "top", "title": "(node all; ER negative; PR all)", "labels": false, "ticks": false, "domain": false, "titleFontSize": 12.5, "titleFontWeight": "normal", "titlePadding": 8}}}}
         ],
         "resolve": {"axis": {"x": "independent"}}},
        {"width": 185, "height": 33, "view": {"stroke": null},
         "data": {"name": "risk"}, "transform": [{"filter": "datum.p == 'e'"}],
         "encoding": {
           "x": {"field": "c", "type": "quantitative", "scale": {"domain": [0.4906, 7.4717], "nice": false, "zero": false}, "axis": null},
           "y": {"field": "r", "type": "nominal", "scale": {"type": "point", "domain": ["h","d","t"], "padding": 0.5}, "axis": null},
           "color": {"field": "r", "type": "nominal", "scale": {"domain": ["h","d","t"], "range": ["#1a1a1a","#2a1f4d","#2a8c8a"]}, "legend": null},
           "text": {"field": "v"}
         },
         "layer": [
           {"transform": [{"filter": "datum.k == 'n'"}], "mark": {"type": "text", "align": "right"}},
           {"transform": [{"filter": "datum.k == 'v'"}], "mark": {"type": "text", "align": "right", "dx": 5}},
           {"transform": [{"filter": "datum.k == 'e'"}], "mark": {"type": "text", "align": "right", "dx": 5}},
           {"transform": [{"filter": "datum.k == 'l'"}], "mark": {"type": "text", "align": "left", "dx": -24}},
           {"transform": [{"filter": "datum.k == 's'"}], "mark": {"type": "text", "align": "right", "dx": -1, "dy": 2, "fontWeight": "normal", "fontSize": 10}}
         ]}
      ]
    },
    {
      "bounds": "flush", "spacing": 27,
      "resolve": {"scale": {"color": "independent"}},
      "vconcat": [
        {"width": 185, "height": 166, "title": {"text": "f", "dx": -45},
         "data": {"name": "km"}, "transform": [{"filter": "datum.p == 'f'"}],
         "encoding": {
           "x": {"field": "t", "type": "quantitative", "scale": {"domain": [0, 11], "nice": false, "zero": false}, "axis": {"values": [0,2,4,6,8,10], "title": "Time (years)"}},
           "y": {"field": "s", "type": "quantitative", "scale": {"domain": [0, 1], "nice": false}, "axis": {"values": [0,0.2,0.4,0.6,0.8,1], "format": ".1f", "title": null}}
         },
         "layer": [
           {"mark": {"type": "line", "clip": true},
            "encoding": {"color": {"field": "g", "type": "nominal", "scale": {"domain": ["L","H"], "range": ["#2a1f4d","#2a9592"]}, "legend": {"title": ["\u00a0HR: 1.40; 95% CI: 1.11 - 1.78", "\u00a0p-value = 0.0048"], "labelExpr": "datum.label == 'L' ? '≤ 25th percentile' : '> 25th percentile'"}}}},
           {"transform": [{"filter": "false"}], "mark": {"type": "line"},
            "encoding": {"x": {"field": "t", "type": "quantitative", "axis": {"orient": "top", "title": "HER2-E (SCMGENE)", "labels": false, "ticks": false, "domain": false, "titleFontSize": 12.5, "titleFontWeight": "bold", "titlePadding": 8}}}}
         ],
         "resolve": {"axis": {"x": "independent"}}},
        {"width": 185, "height": 33, "view": {"stroke": null},
         "data": {"name": "risk"}, "transform": [{"filter": "datum.p == 'f'"}],
         "encoding": {
           "x": {"field": "c", "type": "quantitative", "scale": {"domain": [0.5185, 7.3704], "nice": false, "zero": false}, "axis": null},
           "y": {"field": "r", "type": "nominal", "scale": {"type": "point", "domain": ["h","d","t"], "padding": 0.5}, "axis": null},
           "color": {"field": "r", "type": "nominal", "scale": {"domain": ["h","d","t"], "range": ["#1a1a1a","#2a1f4d","#2a8c8a"]}, "legend": null},
           "text": {"field": "v"}
         },
         "layer": [
           {"transform": [{"filter": "datum.k == 'n'"}], "mark": {"type": "text", "align": "right"}},
           {"transform": [{"filter": "datum.k == 'v'"}], "mark": {"type": "text", "align": "right", "dx": 10}},
           {"transform": [{"filter": "datum.k == 'e'"}], "mark": {"type": "text", "align": "right", "dx": 31}},
           {"transform": [{"filter": "datum.k == 'l'"}], "mark": {"type": "text", "align": "left", "dx": -23}},
           {"transform": [{"filter": "datum.k == 's'"}], "mark": {"type": "text", "align": "right", "dx": 0, "dy": 2, "fontWeight": "normal", "fontSize": 10}}
         ]}
      ]
    },
    {
      "bounds": "flush", "spacing": 27,
      "resolve": {"scale": {"color": "independent"}},
      "vconcat": [
        {"width": 185, "height": 166, "title": {"text": "g", "dx": -54},
         "data": {"name": "km"}, "transform": [{"filter": "datum.p == 'g'"}],
         "encoding": {
           "x": {"field": "t", "type": "quantitative", "scale": {"domain": [0, 12], "nice": false, "zero": false}, "axis": {"values": [0,2,4,6,8,10,12], "title": "Time (years)"}},
           "y": {"field": "s", "type": "quantitative", "scale": {"domain": [0, 1], "nice": false}, "axis": {"values": [0,0.2,0.4,0.6,0.8,1], "format": ".1f", "title": "Probability of DFS"}}
         },
         "layer": [
           {"mark": {"type": "line", "clip": true},
            "encoding": {"color": {"field": "g", "type": "nominal", "scale": {"domain": ["L","H"], "range": ["#2a1f4d","#2a9592"]}, "legend": {"title": ["\u00a0HR: 1.28; 95% CI: 1.06 - 1.54", "\u00a0p-value = 0.0109"], "labelExpr": "datum.label == 'L' ? '≤ 25th percentile' : '> 25th percentile'"}}}},
           {"transform": [{"filter": "false"}], "mark": {"type": "line"},
            "encoding": {"x": {"field": "t", "type": "quantitative", "axis": {"orient": "top", "title": "basal-like", "labels": false, "ticks": false, "domain": false, "titleFontSize": 12.5, "titleFontWeight": "bold", "titlePadding": 8}}}}
         ],
         "resolve": {"axis": {"x": "independent"}}},
        {"width": 185, "height": 33, "view": {"stroke": null},
         "data": {"name": "risk"}, "transform": [{"filter": "datum.p == 'g'"}],
         "encoding": {
           "x": {"field": "c", "type": "quantitative", "scale": {"domain": [0.4906, 7.4717], "nice": false, "zero": false}, "axis": null},
           "y": {"field": "r", "type": "nominal", "scale": {"type": "point", "domain": ["h","d","t"], "padding": 0.5}, "axis": null},
           "color": {"field": "r", "type": "nominal", "scale": {"domain": ["h","d","t"], "range": ["#1a1a1a","#2a1f4d","#2a8c8a"]}, "legend": null},
           "text": {"field": "v"}
         },
         "layer": [
           {"transform": [{"filter": "datum.k == 'n'"}], "mark": {"type": "text", "align": "right"}},
           {"transform": [{"filter": "datum.k == 'v'"}], "mark": {"type": "text", "align": "right", "dx": 8}},
           {"transform": [{"filter": "datum.k == 'e'"}], "mark": {"type": "text", "align": "right", "dx": 9}},
           {"transform": [{"filter": "datum.k == 'l'"}], "mark": {"type": "text", "align": "left", "dx": -24}},
           {"transform": [{"filter": "datum.k == 's'"}], "mark": {"type": "text", "align": "right", "dx": -1, "dy": 2, "fontWeight": "normal", "fontSize": 10}}
         ]}
      ]
    },
    {
      "bounds": "flush", "spacing": 27,
      "resolve": {"scale": {"color": "independent"}},
      "vconcat": [
        {"width": 185, "height": 166, "title": {"text": "h", "dx": -49},
         "data": {"name": "km"}, "transform": [{"filter": "datum.p == 'h'"}],
         "encoding": {
           "x": {"field": "t", "type": "quantitative", "scale": {"domain": [0, 12], "nice": false, "zero": false}, "axis": {"values": [0,2,4,6,8,10,12], "title": "Time (years)"}},
           "y": {"field": "s", "type": "quantitative", "scale": {"domain": [0, 1], "nice": false}, "axis": {"values": [0,0.2,0.4,0.6,0.8,1], "format": ".1f", "title": null}}
         },
         "layer": [
           {"mark": {"type": "line", "clip": true},
            "encoding": {"color": {"field": "g", "type": "nominal", "scale": {"domain": ["L","H"], "range": ["#2a1f4d","#2a9592"]}, "legend": {"title": ["\u00a0HR: 1.15; 95% CI: 0.98 - 1.33", "\u00a0p-value = 0.0803"], "labelExpr": "datum.label == 'L' ? '≤ 25th percentile' : '> 25th percentile'"}}}},
           {"transform": [{"filter": "false"}], "mark": {"type": "line"},
            "encoding": {"x": {"field": "t", "type": "quantitative", "axis": {"orient": "top", "title": "luminal A (Sorlie)", "labels": false, "ticks": false, "domain": false, "titleFontSize": 12.5, "titleFontWeight": "bold", "titlePadding": 8}}}}
         ],
         "resolve": {"axis": {"x": "independent"}}},
        {"width": 185, "height": 33, "view": {"stroke": null},
         "data": {"name": "risk"}, "transform": [{"filter": "datum.p == 'h'"}],
         "encoding": {
           "x": {"field": "c", "type": "quantitative", "scale": {"domain": [0.4906, 7.4717], "nice": false, "zero": false}, "axis": null},
           "y": {"field": "r", "type": "nominal", "scale": {"type": "point", "domain": ["h","d","t"], "padding": 0.5}, "axis": null},
           "color": {"field": "r", "type": "nominal", "scale": {"domain": ["h","d","t"], "range": ["#1a1a1a","#2a1f4d","#2a8c8a"]}, "legend": null},
           "text": {"field": "v"}
         },
         "layer": [
           {"transform": [{"filter": "datum.k == 'n'"}], "mark": {"type": "text", "align": "right"}},
           {"transform": [{"filter": "datum.k == 'v'"}], "mark": {"type": "text", "align": "right", "dx": 3}},
           {"transform": [{"filter": "datum.k == 'e'"}], "mark": {"type": "text", "align": "right", "dx": 3}},
           {"transform": [{"filter": "datum.k == 'l'"}], "mark": {"type": "text", "align": "left", "dx": -24}},
           {"transform": [{"filter": "datum.k == 's'"}], "mark": {"type": "text", "align": "right", "dx": -1, "dy": 2, "fontWeight": "normal", "fontSize": 10}}
         ]}
      ]
    },
    {
      "bounds": "flush", "spacing": 27,
      "resolve": {"scale": {"color": "independent"}},
      "vconcat": [
        {"width": 185, "height": 166, "title": {"text": "i", "dx": -45},
         "data": {"name": "km"}, "transform": [{"filter": "datum.p == 'i'"}],
         "encoding": {
           "x": {"field": "t", "type": "quantitative", "scale": {"domain": [0, 12], "nice": false, "zero": false}, "axis": {"values": [0,2,4,6,8,10,12], "title": "Time (years)"}},
           "y": {"field": "s", "type": "quantitative", "scale": {"domain": [0, 1], "nice": false}, "axis": {"values": [0,0.2,0.4,0.6,0.8,1], "format": ".1f", "title": null}}
         },
         "layer": [
           {"mark": {"type": "line", "clip": true},
            "encoding": {"color": {"field": "g", "type": "nominal", "scale": {"domain": ["L","H"], "range": ["#2a1f4d","#2a9592"]}, "legend": {"title": ["\u00a0HR: 1.17; 95% CI: 0.99 - 1.38", "\u00a0p-value = 0.0623"], "labelExpr": "datum.label == 'L' ? '≤ 25th percentile' : '> 25th percentile'"}}}},
           {"transform": [{"filter": "false"}], "mark": {"type": "line"},
            "encoding": {"x": {"field": "t", "type": "quantitative", "axis": {"orient": "top", "title": "luminal B (Hu)", "labels": false, "ticks": false, "domain": false, "titleFontSize": 12.5, "titleFontWeight": "bold", "titlePadding": 8}}}}
         ],
         "resolve": {"axis": {"x": "independent"}}},
        {"width": 185, "height": 33, "view": {"stroke": null},
         "data": {"name": "risk"}, "transform": [{"filter": "datum.p == 'i'"}],
         "encoding": {
           "x": {"field": "c", "type": "quantitative", "scale": {"domain": [0.4906, 7.4717], "nice": false, "zero": false}, "axis": null},
           "y": {"field": "r", "type": "nominal", "scale": {"type": "point", "domain": ["h","d","t"], "padding": 0.5}, "axis": null},
           "color": {"field": "r", "type": "nominal", "scale": {"domain": ["h","d","t"], "range": ["#1a1a1a","#2a1f4d","#2a8c8a"]}, "legend": null},
           "text": {"field": "v"}
         },
         "layer": [
           {"transform": [{"filter": "datum.k == 'n'"}], "mark": {"type": "text", "align": "right"}},
           {"transform": [{"filter": "datum.k == 'v'"}], "mark": {"type": "text", "align": "right", "dx": 5}},
           {"transform": [{"filter": "datum.k == 'e'"}], "mark": {"type": "text", "align": "right", "dx": 7}},
           {"transform": [{"filter": "datum.k == 'l'"}], "mark": {"type": "text", "align": "left", "dx": -24}},
           {"transform": [{"filter": "datum.k == 's'"}], "mark": {"type": "text", "align": "right", "dx": -1, "dy": 2, "fontWeight": "normal", "fontSize": 10}}
         ]}
      ]
    }
  ],
  "config": {
    "font": "Liberation Sans",
    "view": {"stroke": "#000000", "strokeWidth": 2},
    "axis": {"grid": false, "domain": false, "ticks": true, "tickColor": "#000000", "tickSize": 4, "tickWidth": 1.5, "labelFont": "Liberation Sans", "labelFontSize": 11, "labelFontWeight": "bold", "labelColor": "#111111", "labelFlush": false, "titleFont": "Liberation Sans", "titleColor": "#111111"},
    "axisX": {"labelPadding": 1, "titleFontSize": 11.5, "titleFontWeight": "bold", "titlePadding": 1},
    "axisY": {"labelPadding": 2, "titleFontSize": 15, "titleFontWeight": "normal", "titlePadding": 6},
    "legend": {"orient": "bottom-left", "offset": 2, "padding": 0, "symbolType": "stroke", "symbolStrokeWidth": 3, "symbolSize": 70, "labelFont": "Liberation Sans", "labelFontSize": 11.5, "labelFontWeight": "bold", "labelColor": "#111111", "labelOffset": 3, "rowPadding": -1, "titleOrient": "bottom", "titleFont": "Liberation Sans", "titleFontSize": 11, "titleFontWeight": "normal", "titleColor": "#111111", "titlePadding": 4, "titleLineHeight": 10.5, "titleLimit": 300, "titleAnchor": "start"},
    "title": {"font": "Liberation Sans", "fontSize": 15, "fontWeight": "bold", "color": "#111111", "anchor": "start", "frame": "group", "baseline": "alphabetic", "offset": 0, "dx": -52, "dy": 34},
    "text": {"font": "Liberation Sans", "fontSize": 11, "fontWeight": "bold", "baseline": "middle"},
    "line": {"strokeWidth": 2}
  }
}
